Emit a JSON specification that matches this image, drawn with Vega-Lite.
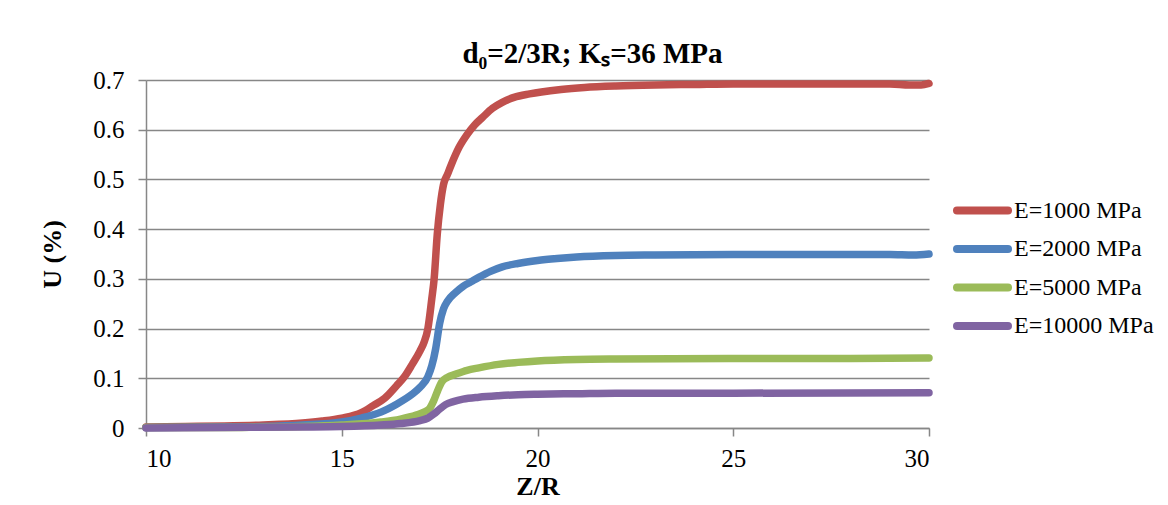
{
  "$schema": "https://vega.github.io/schema/vega-lite/v6.json",
  "width": 783,
  "height": 348,
  "autosize": {"type": "none"},
  "padding": {"left": 146, "top": 80, "right": 239, "bottom": 77},
  "background": "white",
  "config": {
    "view": {"stroke": null},
    "font": "Liberation Serif",
    "axis": {
      "domainColor": "#878787",
      "tickColor": "#878787",
      "gridColor": "#878787",
      "domainWidth": 1.5,
      "tickWidth": 1.5,
      "gridWidth": 1.5,
      "tickSize": 8,
      "labelFont": "Liberation Serif",
      "labelFontSize": 25,
      "labelColor": "#000000",
      "titleFont": "Liberation Serif",
      "titleFontSize": 26,
      "titleFontWeight": "bold",
      "titleColor": "#000000"
    }
  },
  "title": {
    "text": "d₀=2/3R; Kₛ=36 MPa",
    "font": "Liberation Serif",
    "fontSize": 29,
    "fontWeight": "bold",
    "color": "#000000",
    "anchor": "middle",
    "dx": 55,
    "offset": -1
  },
  "data": {
    "values": [
      {"z": 10, "u": 0.002, "s": "E=1000 MPa"},
      {"z": 11, "u": 0.003, "s": "E=1000 MPa"},
      {"z": 12, "u": 0.004, "s": "E=1000 MPa"},
      {"z": 13, "u": 0.006, "s": "E=1000 MPa"},
      {"z": 14, "u": 0.010, "s": "E=1000 MPa"},
      {"z": 14.5, "u": 0.014, "s": "E=1000 MPa"},
      {"z": 15, "u": 0.020, "s": "E=1000 MPa"},
      {"z": 15.5, "u": 0.031, "s": "E=1000 MPa"},
      {"z": 15.8, "u": 0.045, "s": "E=1000 MPa"},
      {"z": 16.1, "u": 0.060, "s": "E=1000 MPa"},
      {"z": 16.4, "u": 0.085, "s": "E=1000 MPa"},
      {"z": 16.6, "u": 0.103, "s": "E=1000 MPa"},
      {"z": 16.8, "u": 0.128, "s": "E=1000 MPa"},
      {"z": 17.0, "u": 0.155, "s": "E=1000 MPa"},
      {"z": 17.1, "u": 0.172, "s": "E=1000 MPa"},
      {"z": 17.2, "u": 0.20, "s": "E=1000 MPa"},
      {"z": 17.3, "u": 0.26, "s": "E=1000 MPa"},
      {"z": 17.36, "u": 0.30, "s": "E=1000 MPa"},
      {"z": 17.44, "u": 0.39, "s": "E=1000 MPa"},
      {"z": 17.52, "u": 0.45, "s": "E=1000 MPa"},
      {"z": 17.6, "u": 0.49, "s": "E=1000 MPa"},
      {"z": 17.7, "u": 0.51, "s": "E=1000 MPa"},
      {"z": 17.8, "u": 0.53, "s": "E=1000 MPa"},
      {"z": 18.0, "u": 0.565, "s": "E=1000 MPa"},
      {"z": 18.2, "u": 0.59, "s": "E=1000 MPa"},
      {"z": 18.4, "u": 0.61, "s": "E=1000 MPa"},
      {"z": 18.6, "u": 0.625, "s": "E=1000 MPa"},
      {"z": 18.85, "u": 0.643, "s": "E=1000 MPa"},
      {"z": 19.1, "u": 0.655, "s": "E=1000 MPa"},
      {"z": 19.4, "u": 0.665, "s": "E=1000 MPa"},
      {"z": 19.8, "u": 0.672, "s": "E=1000 MPa"},
      {"z": 20.1, "u": 0.676, "s": "E=1000 MPa"},
      {"z": 20.6, "u": 0.681, "s": "E=1000 MPa"},
      {"z": 21.2, "u": 0.685, "s": "E=1000 MPa"},
      {"z": 22, "u": 0.688, "s": "E=1000 MPa"},
      {"z": 23, "u": 0.690, "s": "E=1000 MPa"},
      {"z": 24, "u": 0.691, "s": "E=1000 MPa"},
      {"z": 25, "u": 0.692, "s": "E=1000 MPa"},
      {"z": 27, "u": 0.692, "s": "E=1000 MPa"},
      {"z": 29, "u": 0.692, "s": "E=1000 MPa"},
      {"z": 29.5, "u": 0.690, "s": "E=1000 MPa"},
      {"z": 29.8, "u": 0.690, "s": "E=1000 MPa"},
      {"z": 30, "u": 0.693, "s": "E=1000 MPa"},

      {"z": 10, "u": 0.001, "s": "E=2000 MPa"},
      {"z": 12, "u": 0.002, "s": "E=2000 MPa"},
      {"z": 13, "u": 0.003, "s": "E=2000 MPa"},
      {"z": 14, "u": 0.006, "s": "E=2000 MPa"},
      {"z": 15, "u": 0.012, "s": "E=2000 MPa"},
      {"z": 15.5, "u": 0.020, "s": "E=2000 MPa"},
      {"z": 16, "u": 0.032, "s": "E=2000 MPa"},
      {"z": 16.4, "u": 0.048, "s": "E=2000 MPa"},
      {"z": 16.8, "u": 0.068, "s": "E=2000 MPa"},
      {"z": 17.0, "u": 0.082, "s": "E=2000 MPa"},
      {"z": 17.2, "u": 0.103, "s": "E=2000 MPa"},
      {"z": 17.3, "u": 0.125, "s": "E=2000 MPa"},
      {"z": 17.4, "u": 0.16, "s": "E=2000 MPa"},
      {"z": 17.5, "u": 0.21, "s": "E=2000 MPa"},
      {"z": 17.6, "u": 0.24, "s": "E=2000 MPa"},
      {"z": 17.7, "u": 0.255, "s": "E=2000 MPa"},
      {"z": 17.9, "u": 0.272, "s": "E=2000 MPa"},
      {"z": 18.1, "u": 0.285, "s": "E=2000 MPa"},
      {"z": 18.3, "u": 0.294, "s": "E=2000 MPa"},
      {"z": 18.5, "u": 0.303, "s": "E=2000 MPa"},
      {"z": 18.8, "u": 0.315, "s": "E=2000 MPa"},
      {"z": 19.1, "u": 0.324, "s": "E=2000 MPa"},
      {"z": 19.5, "u": 0.331, "s": "E=2000 MPa"},
      {"z": 20, "u": 0.337, "s": "E=2000 MPa"},
      {"z": 20.5, "u": 0.341, "s": "E=2000 MPa"},
      {"z": 21, "u": 0.344, "s": "E=2000 MPa"},
      {"z": 22, "u": 0.347, "s": "E=2000 MPa"},
      {"z": 23, "u": 0.348, "s": "E=2000 MPa"},
      {"z": 25, "u": 0.349, "s": "E=2000 MPa"},
      {"z": 27, "u": 0.349, "s": "E=2000 MPa"},
      {"z": 29, "u": 0.349, "s": "E=2000 MPa"},
      {"z": 29.6, "u": 0.348, "s": "E=2000 MPa"},
      {"z": 30, "u": 0.350, "s": "E=2000 MPa"},

      {"z": 10, "u": 0.001, "s": "E=5000 MPa"},
      {"z": 12, "u": 0.001, "s": "E=5000 MPa"},
      {"z": 13, "u": 0.002, "s": "E=5000 MPa"},
      {"z": 14, "u": 0.003, "s": "E=5000 MPa"},
      {"z": 15, "u": 0.006, "s": "E=5000 MPa"},
      {"z": 16, "u": 0.012, "s": "E=5000 MPa"},
      {"z": 16.5, "u": 0.018, "s": "E=5000 MPa"},
      {"z": 16.9, "u": 0.026, "s": "E=5000 MPa"},
      {"z": 17.1, "u": 0.032, "s": "E=5000 MPa"},
      {"z": 17.25, "u": 0.040, "s": "E=5000 MPa"},
      {"z": 17.35, "u": 0.055, "s": "E=5000 MPa"},
      {"z": 17.45, "u": 0.075, "s": "E=5000 MPa"},
      {"z": 17.55, "u": 0.092, "s": "E=5000 MPa"},
      {"z": 17.7, "u": 0.102, "s": "E=5000 MPa"},
      {"z": 17.9, "u": 0.108, "s": "E=5000 MPa"},
      {"z": 18.2, "u": 0.116, "s": "E=5000 MPa"},
      {"z": 18.5, "u": 0.121, "s": "E=5000 MPa"},
      {"z": 19, "u": 0.128, "s": "E=5000 MPa"},
      {"z": 19.5, "u": 0.132, "s": "E=5000 MPa"},
      {"z": 20, "u": 0.135, "s": "E=5000 MPa"},
      {"z": 21, "u": 0.138, "s": "E=5000 MPa"},
      {"z": 22, "u": 0.139, "s": "E=5000 MPa"},
      {"z": 25, "u": 0.140, "s": "E=5000 MPa"},
      {"z": 28, "u": 0.140, "s": "E=5000 MPa"},
      {"z": 30, "u": 0.141, "s": "E=5000 MPa"},

      {"z": 10, "u": 0.000, "s": "E=10000 MPa"},
      {"z": 12, "u": 0.001, "s": "E=10000 MPa"},
      {"z": 14, "u": 0.002, "s": "E=10000 MPa"},
      {"z": 15, "u": 0.003, "s": "E=10000 MPa"},
      {"z": 16, "u": 0.006, "s": "E=10000 MPa"},
      {"z": 16.5, "u": 0.009, "s": "E=10000 MPa"},
      {"z": 17.0, "u": 0.015, "s": "E=10000 MPa"},
      {"z": 17.2, "u": 0.020, "s": "E=10000 MPa"},
      {"z": 17.35, "u": 0.028, "s": "E=10000 MPa"},
      {"z": 17.5, "u": 0.038, "s": "E=10000 MPa"},
      {"z": 17.65, "u": 0.047, "s": "E=10000 MPa"},
      {"z": 17.85, "u": 0.053, "s": "E=10000 MPa"},
      {"z": 18.1, "u": 0.058, "s": "E=10000 MPa"},
      {"z": 18.5, "u": 0.062, "s": "E=10000 MPa"},
      {"z": 19, "u": 0.065, "s": "E=10000 MPa"},
      {"z": 19.5, "u": 0.067, "s": "E=10000 MPa"},
      {"z": 20, "u": 0.068, "s": "E=10000 MPa"},
      {"z": 21, "u": 0.069, "s": "E=10000 MPa"},
      {"z": 22, "u": 0.070, "s": "E=10000 MPa"},
      {"z": 25, "u": 0.070, "s": "E=10000 MPa"},
      {"z": 30, "u": 0.071, "s": "E=10000 MPa"}
    ]
  },
  "mark": {"type": "line", "strokeWidth": 7.5, "strokeCap": "round", "strokeJoin": "round", "interpolate": "monotone"},
  "encoding": {
    "x": {
      "field": "z", "type": "quantitative",
      "scale": {"domain": [10, 30], "nice": false, "zero": false},
      "axis": {"values": [10, 15, 20, 25, 30], "grid": false, "title": "Z/R", "labelPadding": 10, "titlePadding": 2, "format": "d"}
    },
    "y": {
      "field": "u", "type": "quantitative",
      "scale": {"domain": [0, 0.7], "nice": false},
      "axis": {"values": [0, 0.1, 0.2, 0.3, 0.4, 0.5, 0.6, 0.7], "grid": true, "title": "U (%)", "format": "~g", "labelPadding": 14, "titlePadding": 27}
    },
    "color": {
      "field": "s", "type": "nominal",
      "scale": {"domain": ["E=1000 MPa", "E=2000 MPa", "E=5000 MPa", "E=10000 MPa"], "range": ["#C0504D", "#4F81BD", "#9BBB59", "#8064A2"]},
      "sort": ["E=1000 MPa", "E=2000 MPa", "E=5000 MPa", "E=10000 MPa"],
      "legend": {
        "title": null,
        "orient": "none",
        "legendX": 824,
        "legendY": 118,
        "symbolType": "M-3,0H3",
        "symbolSize": 289,
        "symbolStrokeWidth": 8,
        "symbolFillColor": "transparent",
        "labelFont": "Liberation Serif",
        "labelFontSize": 24,
        "labelColor": "#000000",
        "labelOffset": 19,
        "rowPadding": 5.5,
        "encode": {"symbols": {"update": {"strokeCap": {"value": "round"}}}}
      }
    }
  }
}
